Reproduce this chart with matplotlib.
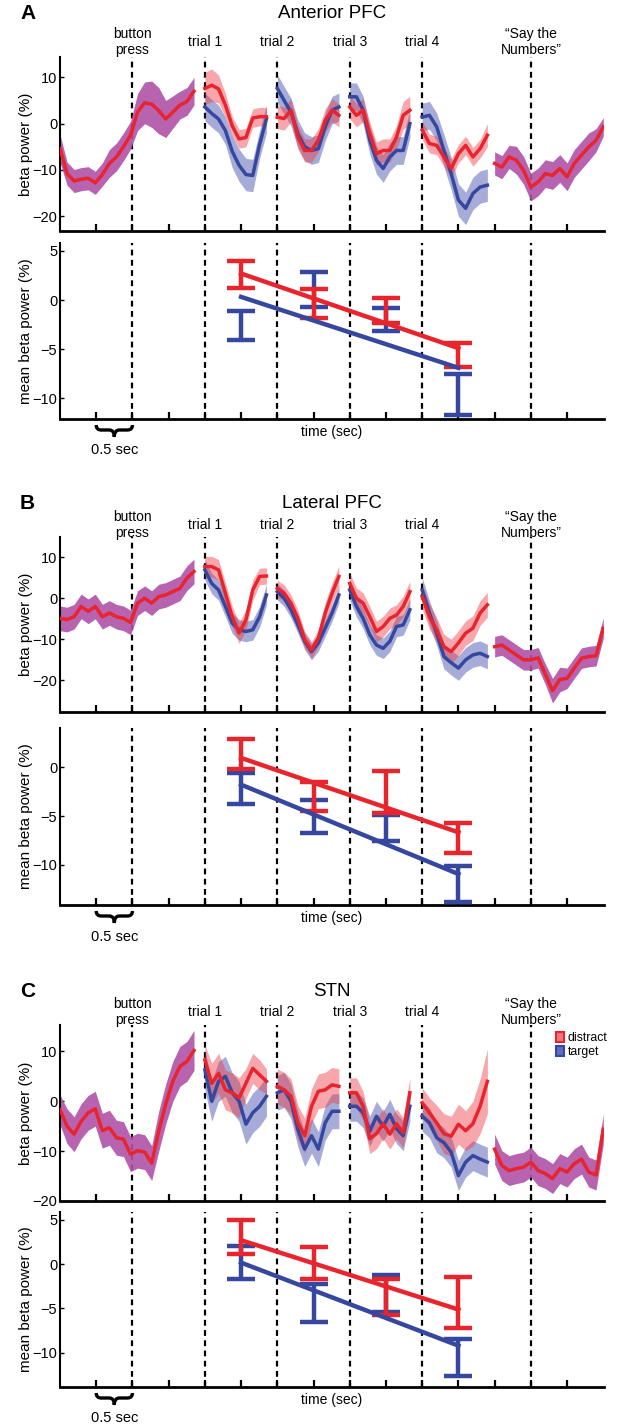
import numpy as np
import matplotlib
matplotlib.use("Agg")
import matplotlib.pyplot as plt
import matplotlib.transforms as mtransforms
from matplotlib.patches import Patch, PathPatch
from matplotlib.path import Path

plt.rcParams['font.family'] = ['Liberation Sans', 'DejaVu Sans']

W, H = 617, 1428

# events (sec) and labels
event_t = [1.0, 2.0, 3.0, 4.0, 5.0, 6.5]
event_labels = ['button\npress', 'trial 1', 'trial 2', 'trial 3', 'trial 4',
                '\u201cSay the\nNumbers\u201d']
tick_t = [0.5, 1.0, 1.5, 2.0, 2.5, 3.0, 3.5, 4.0, 4.5, 5.0, 5.5, 6.0, 6.5, 7.0]
trial_t = [2.5, 3.5, 4.5, 5.5]

# time spans of the trace pieces
pre_span = (0.0, 1.85)
trial_spans = [(2.0, 2.85), (3.0, 3.85), (4.0, 4.83), (5.0, 5.9)]
post_span = (6.0, 7.5)

# ---------------- A: Anterior PFC ----------------
apfc_pre = [-5.4, -10.8, -12.4, -12.0, -11.8, -12.8, -11.0, -8.6, -7.2, -5.0,
            -2.5, 2.5, 4.5, 4.2, 2.8, 1.0, 2.5, 4.0, 4.8, 7.0]
apfc_pre_sem = [3, 2.5, 2.5, 2.5, 2.5, 2.5, 2.5, 3, 3, 3, 3, 4, 4.5, 5, 5, 4, 3.5, 3, 3, 3]
apfc_distract = [[7.6, 8.3, 7.5, 4.0, -0.5, -3.3, -3.0, 1.2, 1.5, 1.5],
                 [1.4, 1.1, 2.9, -2.9, -5.8, -5.8, -3.6, 0.7, 2.9, 1.8],
                 [3.6, 1.8, 2.9, -2.2, -6.5, -5.8, -5.8, -2.9, 1.8, 2.9],
                 [-1.4, -4.3, -4.7, -7.2, -9.7, -6.5, -4.7, -7.2, -5.4, -2.5]]
apfc_distract_sem = [[3.5, 3.5, 3, 2.5, 2, 2, 2, 2, 2, 2],
                     [2.5, 2.5, 2.5, 2.5, 2.5, 2.5, 2.5, 2.5, 2.5, 2.5],
                     [2.5, 2.5, 2.5, 2.5, 2.5, 2.5, 2.5, 2.5, 3, 3],
                     [2, 2, 2, 2, 2, 2, 2, 2, 2, 2.5]]
apfc_target = [[3.6, 2.2, 1.0, -1.5, -6.0, -9.0, -11.0, -11.2, -4.5, 1.0],
               [7.6, 5.0, 2.5, -2.2, -5.0, -5.8, -5.4, -0.7, 2.9, 3.6],
               [5.8, 5.8, 2.9, -3.6, -7.9, -9.7, -7.2, -5.8, -5.8, 0.0],
               [1.4, 1.8, -0.7, -5.8, -10.8, -16.5, -18.3, -15.1, -13.7, -13.3]]
apfc_target_sem = [[3, 3, 3, 3, 3.5, 3.5, 3.5, 3.5, 3, 3],
                   [3, 3, 3, 3, 3, 3, 3, 3, 3, 3],
                   [3, 3, 3, 3, 3, 3, 3, 3, 3, 3],
                   [3, 3, 3, 3.5, 3.5, 3.5, 3.5, 3.5, 3.5, 3.5]]
apfc_post = [-8.6, -9.4, -7.2, -7.9, -10.1, -13.7, -12.6, -10.8, -11.2, -9.7,
             -11.5, -8.6, -6.8, -5.0, -3.6, -0.7]
apfc_post_sem = [2.5, 2.5, 2.5, 3, 3, 3, 3, 3, 3, 3, 3, 3, 3, 3, 2.5, 2]
apfc_bar_distract_lo = [1.2, -1.8, -2.3, -6.8]
apfc_bar_distract_hi = [4.0, 1.1, 0.2, -4.4]
apfc_bar_target_lo = [-4.1, -0.7, -3.2, -11.7]
apfc_bar_target_hi = [-1.1, 2.8, -0.8, -7.5]

# ---------------- B: Lateral PFC ----------------
lpfc_pre = [-4.9, -5.2, -4.5, -2.0, -3.2, -2.0, -4.5, -3.6, -4.5, -4.9,
            -5.9, -1.2, 0.0, -1.2, 0.4, 0.8, 1.6, 2.4, 4.9, 6.5]
lpfc_pre_sem = [3, 3, 3, 3, 3, 3, 3, 3, 3, 3, 3, 3, 3, 3, 3, 3, 3, 3, 3, 3]
lpfc_distract = [[7.7, 7.7, 6.9, 1.2, -4.5, -8.5, -5.3, 2.0, 5.3, 5.4],
                 [2.4, 1.2, -1.2, -4.9, -10.1, -12.6, -9.7, -3.6, 1.2, 5.3],
                 [3.6, 0.0, -1.2, -4.5, -8.1, -6.9, -4.9, -4.1, -2.0, 1.6],
                 [0.4, -4.5, -7.7, -11.8, -13.0, -10.9, -8.5, -7.3, -3.6, -1.6]]
lpfc_distract_sem = [[2.5, 2.5, 2.5, 2.5, 2.5, 2.5, 2.5, 2.5, 2, 2],
                     [2, 2, 2, 2, 2, 2, 2, 2.5, 2.5, 2.5],
                     [2.5, 2.5, 2.5, 2.5, 2.5, 2.5, 2.5, 2.5, 2.5, 2.5],
                     [3, 3, 3, 3, 3, 3, 3, 3, 3, 3]]
lpfc_target = [[6.9, 3.6, 2.0, -2.0, -6.1, -7.7, -8.1, -7.7, -4.5, 0.8],
               [1.6, 0.0, -2.8, -6.5, -10.5, -13.0, -10.9, -7.3, -3.6, 0.8],
               [2.0, -2.0, -4.9, -8.9, -11.4, -12.2, -10.5, -6.9, -6.5, -2.8],
               [2.0, -3.6, -8.5, -14.2, -15.7, -17.0, -15.0, -13.8, -13.4, -14.2]]
lpfc_target_sem = [[2.5, 2.5, 2.5, 2.5, 2.5, 2.5, 2.5, 2.5, 2.5, 2.5],
                   [2, 2, 2, 2, 2, 2, 2, 2, 2, 2],
                   [2.5, 2.5, 2.5, 2.5, 2.5, 2.5, 2.5, 2.5, 2.5, 2.5],
                   [3, 3, 3, 3, 3, 3, 3, 3, 3, 3]]
lpfc_post = [-11.8, -11.4, -12.6, -13.8, -15.0, -15.0, -14.5, -18.5, -22.5, -19.8,
             -19.5, -17.0, -14.6, -14.2, -14.0, -7.3]
lpfc_post_sem = [2.5, 2.5, 2.5, 2.5, 2.5, 2.5, 2.5, 2.5, 3, 3, 2.5, 2.5, 2.5, 2.5, 2.5, 2.5]
lpfc_bar_distract_lo = [-0.2, -4.5, -4.7, -8.8]
lpfc_bar_distract_hi = [2.9, -1.5, -0.4, -5.7]
lpfc_bar_target_lo = [-3.8, -6.7, -7.6, -13.8]
lpfc_bar_target_hi = [-0.6, -3.4, -4.9, -10.1]

# ---------------- C: STN ----------------
stn_pre = [-1.7, -5.0, -6.6, -4.0, -2.3, -1.5, -5.9, -5.3, -7.3, -7.6,
           -10.6, -9.9, -10.2, -12.4, -6.0, -0.5, 4.0, 7.0, 8.0, 10.2]
stn_pre_sem = [3, 3.5, 3.5, 3.5, 3.5, 3.5, 3.5, 3.5, 3.5, 3.5,
               3.5, 3.5, 3.5, 3.5, 4, 4, 4, 4, 4, 4]
stn_distract = [[8.3, 3.6, 5.6, 2.3, 1.7, 0.7, 3.6, 6.6, 5.3, 4.0],
                [3.0, 2.3, 1.0, -4.3, -6.9, -1.0, 2.0, 2.3, 3.3, 3.0],
                [1.7, 1.7, -1.0, -7.5, -6.5, -4.5, -6.6, -4.5, -6.3, 1.7],
                [-0.3, -2.3, -4.3, -6.5, -7.0, -4.6, -5.9, -4.5, -1.0, 4.0]]
stn_distract_sem = [[3, 4, 4, 4, 4, 4, 3, 3, 3, 2.5],
                    [3.5, 3.5, 3.5, 3.5, 3.5, 3.5, 3.5, 3.5, 3.5, 3.5],
                    [3, 3, 3, 3, 3, 3, 3, 3, 3, 3],
                    [3, 3, 3.5, 4, 4, 4, 4, 4.5, 5.5, 6.5]]
stn_target = [[6.3, 0.0, 4.0, 5.0, 1.7, 0.0, -4.6, -2.3, -1.0, 1.0],
              [1.7, 2.3, 0.0, -5.6, -9.6, -6.9, -9.6, -4.3, -2.0, -2.0],
              [-1.0, -1.0, -2.3, -6.0, -3.0, -5.0, -2.6, -5.5, -6.9, -1.0],
              [-3.0, -4.3, -7.3, -8.3, -10.2, -14.9, -12.2, -10.9, -11.6, -12.2]]
stn_target_sem = [[4, 4, 4, 4, 4, 4, 4, 4, 4, 4],
                  [3.5, 3.5, 3.5, 3.5, 3.5, 3.5, 3.5, 3.5, 3.5, 3.5],
                  [3, 3, 3, 3, 3, 3, 3, 3, 3, 3],
                  [3, 3, 3, 3, 3, 3, 3, 3, 3, 3]]
stn_post = [-9.6, -12.9, -13.9, -13.5, -13.2, -12.2, -13.9, -14.5, -15.5, -13.5,
            -14.2, -12.5, -11.6, -14.2, -14.8, -5.6]
stn_post_sem = [3, 3, 3, 3, 3, 3, 3, 3, 3, 3, 3, 3, 3, 3, 3, 3]
stn_bar_distract_lo = [1.2, -1.7, -5.7, -7.2]
stn_bar_distract_hi = [5.0, 1.9, -1.7, -1.5]
stn_bar_target_lo = [-1.7, -6.5, -5.4, -12.7]
stn_bar_target_hi = [2.1, -2.3, -1.2, -8.5]

RED = '#e8242c'
BLUE = '#3647a0'
RED_FILL = '#ee3a45'
BLUE_FILL = '#3a48a8'
PURPLE = '#b052a8'


def fx(px):
    return px / W


def fy(py):
    return 1 - py / H


def style_axes(ax, xlim):
    ax.set_xlim(*xlim)
    for s in ['top', 'right']:
        ax.spines[s].set_visible(False)
    ax.spines['left'].set_linewidth(1.5)
    ax.spines['bottom'].set_linewidth(2.0)
    ax.set_xticks(tick_t)
    ax.tick_params(axis='x', direction='in', length=5, width=1.6, labelbottom=False)
    ax.tick_params(axis='y', direction='in', length=3, width=1, labelsize=10.5, pad=2)
    for t in event_t:
        ax.axvline(t, color='k', lw=1.6, dashes=(2.6, 2.0), zorder=1)


def trace(ax, span, mean, sem, line_c, fill_c, alpha):
    t = np.linspace(span[0], span[1], len(mean))
    m = np.array(mean)
    s = np.array(sem)
    ax.fill_between(t, m - s, m + s, color=fill_c, alpha=alpha, lw=0, zorder=2)
    ax.plot(t, m, color=line_c, lw=2.5, zorder=3)


def brace(fig, ax, x0, x1, spine_py):
    tr = mtransforms.blended_transform_factory(ax.transData, fig.transFigure)
    top, mid, bot = fy(spine_py + 6), fy(spine_py + 11), fy(spine_py + 18)
    xm = (x0 + x1) / 2
    d = 0.07
    verts = [(x0, top), (x0, mid), (x0 + d, mid), (xm - d, mid), (xm, mid), (xm, bot),
             (xm, mid), (xm + d, mid), (x1 - d, mid), (x1, mid), (x1, top)]
    codes = [Path.MOVETO, Path.CURVE3, Path.CURVE3, Path.LINETO, Path.CURVE3, Path.CURVE3,
             Path.CURVE3, Path.CURVE3, Path.LINETO, Path.CURVE3, Path.CURVE3]
    fig.add_artist(PathPatch(Path(verts, codes), transform=tr, fill=False,
                             lw=2.4, color='k', clip_on=False))


def panel(fig, letter, title, top_px, bot_px, text_px, top_ylim, bot_ylim,
          top_yticks, bot_yticks, pre, pre_sem, dis, dis_sem, tar, tar_sem,
          post, post_sem, d_lo, d_hi, t_lo, t_hi, legend=False):
    x0, wd = 60, 544
    xlim = (0.0, 7.51)
    ax1 = fig.add_axes([fx(x0), fy(top_px[1]), fx(wd), (top_px[1] - top_px[0]) / H])
    ax2 = fig.add_axes([fx(x0), fy(bot_px[1]), fx(wd), (bot_px[1] - bot_px[0]) / H])

    style_axes(ax1, xlim)
    ax1.set_ylim(*top_ylim)
    ax1.set_yticks(top_yticks)
    trace(ax1, pre_span, pre, pre_sem, RED, PURPLE, 0.9)
    for span, m, s in zip(trial_spans, tar, tar_sem):
        trace(ax1, span, m, s, BLUE, BLUE_FILL, 0.45)
    for span, m, s in zip(trial_spans, dis, dis_sem):
        trace(ax1, span, m, s, RED, RED_FILL, 0.45)
    trace(ax1, post_span, post, post_sem, RED, PURPLE, 0.9)

    style_axes(ax2, xlim)
    ax2.set_ylim(*bot_ylim)
    ax2.set_yticks(bot_yticks)
    for lo, hi, c in [(t_lo, t_hi, BLUE), (d_lo, d_hi, RED)]:
        lo = np.array(lo)
        hi = np.array(hi)
        mid = (lo + hi) / 2
        ax2.errorbar(trial_t, mid, yerr=(hi - lo) / 2, fmt='none', ecolor=c,
                     elinewidth=3.2, capsize=10, capthick=3.2, zorder=3, clip_on=False)
        coef = np.polyfit(trial_t, mid, 1)
        ends = [trial_t[0], trial_t[-1]]
        ax2.plot(ends, np.polyval(coef, ends), color=c, lw=3.2, zorder=4)

    title_py, event_py, time_py, half_py = text_px
    fig.text(fx(20), fy(title_py), letter, fontsize=15, fontweight='bold',
             ha='left', va='center')
    fig.text(fx(x0 + wd / 2), fy(title_py), title, fontsize=13.5, ha='center', va='center')
    tr = mtransforms.blended_transform_factory(ax1.transData, fig.transFigure)
    for t, lab in zip(event_t, event_labels):
        ax1.text(t, fy(event_py), lab, transform=tr, fontsize=10, ha='center',
                 va='center', linespacing=1.15)
    fig.text(fx(25.6), fy((top_px[0] + top_px[1]) / 2), 'beta power (%)', rotation=90,
             fontsize=11, ha='center', va='center')
    fig.text(fx(25.6), fy((bot_px[0] + bot_px[1]) / 2), 'mean beta power (%)',
             rotation=90, fontsize=11, ha='center', va='center')
    fig.text(fx(x0 + wd / 2), fy(time_py), 'time (sec)', fontsize=10,
             ha='center', va='center')
    tr2 = mtransforms.blended_transform_factory(ax2.transData, fig.transFigure)
    ax2.text(0.75, fy(half_py), '0.5 sec', transform=tr2, fontsize=10.5,
             ha='center', va='center')
    brace(fig, ax2, 0.5, 1.0, bot_px[1])

    if legend:
        handles = [Patch(facecolor='#f27580', edgecolor=RED, lw=1.5),
                   Patch(facecolor='#5f6cc0', edgecolor=BLUE, lw=1.5)]
        fig.legend(handles, ['distract', 'target'], loc='upper left',
                   bbox_to_anchor=(fx(556), fy(1032)), frameon=False, fontsize=8.8,
                   handlelength=0.65, handleheight=0.85, handletextpad=0.3,
                   labelspacing=0.15, borderpad=0, borderaxespad=0)


fig = plt.figure(figsize=(W / 100, H / 100), dpi=100)

panel(fig, 'A', 'Anterior PFC', (57, 231), (243, 419), (13.3, 41.7, 432, 450),
      (-23.2, 14.4), (-12.1, 5.8), [-20, -10, 0, 10], [-10, -5, 0, 5],
      apfc_pre, apfc_pre_sem, apfc_distract, apfc_distract_sem,
      apfc_target, apfc_target_sem, apfc_post, apfc_post_sem,
      apfc_bar_distract_lo, apfc_bar_distract_hi, apfc_bar_target_lo, apfc_bar_target_hi)

panel(fig, 'B', 'Lateral PFC', (537, 712), (728, 905), (503.3, 525, 918, 937),
      (-27.7, 14.9), (-14.1, 4.0), [-20, -10, 0, 10], [-10, -5, 0],
      lpfc_pre, lpfc_pre_sem, lpfc_distract, lpfc_distract_sem,
      lpfc_target, lpfc_target_sem, lpfc_post, lpfc_post_sem,
      lpfc_bar_distract_lo, lpfc_bar_distract_hi, lpfc_bar_target_lo, lpfc_bar_target_hi)

panel(fig, 'C', 'STN', (1025, 1201), (1212, 1387), (991.7, 1011.7, 1400, 1418),
      (-20.0, 15.3), (-13.9, 5.9), [-20, -10, 0, 10], [-10, -5, 0, 5],
      stn_pre, stn_pre_sem, stn_distract, stn_distract_sem,
      stn_target, stn_target_sem, stn_post, stn_post_sem,
      stn_bar_distract_lo, stn_bar_distract_hi, stn_bar_target_lo, stn_bar_target_hi,
      legend=True)

fig.savefig('out.png', dpi=100)
